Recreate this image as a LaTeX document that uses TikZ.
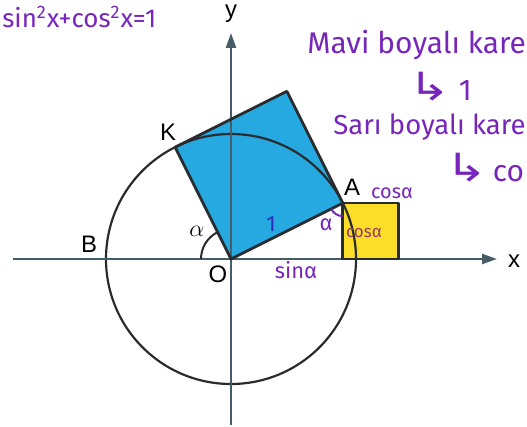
\documentclass[tikz,border=0pt]{standalone}
\usepackage{fontspec}
\setmainfont{Liberation Sans}
\newfontfamily\handfont{Fira Sans}
\newfontfamily\arrowfont{DejaVu Sans}
\usetikzlibrary{arrows.meta,calc}
\definecolor{bluefill}{RGB}{38,168,224}
\definecolor{yellowfill}{RGB}{252,222,40}
\definecolor{inkpurple}{RGB}{118,38,186}
\definecolor{inkblue}{RGB}{45,45,190}
\definecolor{inkbrown}{RGB}{150,55,105}
\definecolor{axisgray}{RGB}{70,92,102}
\definecolor{edgegray}{RGB}{40,44,46}
\newcommand{\hook}{{\arrowfont\scalebox{1.7}[1.3]{↳}}}

\begin{document}
\begin{tikzpicture}[
    x=0.5bp, y=0.5bp,
    axisline/.style={axisgray, line width=1.2pt, -{Triangle[length=7.5pt,width=5pt]}},
    sqedge/.style={edgegray, line width=1.4pt, line join=round},
    letter/.style={font=\fontsize{12}{14}\selectfont, inner sep=0pt},
    inkhand/.style={inkpurple, font=\handfont\fontsize{15}{17}\selectfont, inner sep=0pt},
    inksmall/.style={inkpurple, font=\handfont\fontsize{10}{12}\selectfont, inner sep=0pt}
]
\useasboundingbox (-231,-168) rectangle (296,259);

% Corners
\coordinate (O) at (0,0);
\coordinate (A) at (26.565:125);
\coordinate (K) at (116.565:125);
\coordinate (D) at ($(A)+(K)$);
\coordinate (P) at (A |- O);
\coordinate (Q) at (167.7,0);
\coordinate (R) at (Q |- A);

% Fills
\fill[bluefill] (O) -- (A) -- (D) -- (K) -- cycle;
\fill[yellowfill] (A) -- (R) -- (Q) -- (P) -- cycle;

% Unit circle
\draw[edgegray, line width=1.1pt] (O) circle (125);

% Axes
\coordinate (xl) at (-218,0);
\coordinate (xr) at (266,0);
\coordinate (yb) at (0,-166);
\coordinate (yt) at (0,226);
\draw[axisline] (xl) -- (xr);
\draw[axisline] (yb) -- (yt);

% Squares
\draw[sqedge] (O) -- (A) -- (D) -- (K) -- cycle;
\draw[sqedge] (A) -- (R) -- (Q) -- (P) -- cycle;

% Angle marks
\draw[edgegray, line width=1pt] (-30,0) arc[start angle=180, end angle=116.565, radius=30];
\draw[inkpurple, line width=1pt] ($(A)+(206.565:13)$) arc[start angle=206.565, end angle=270, radius=13];

% Letters
\node[letter] (ylab) at (0,245) {y};
\node[letter] (xlab) at (283,-2) {x};
\node[letter] (Klab) at (-63,127) {K};
\node[letter] (Alab) at (121,72) {A};
\node[letter] (Blab) at (-142,15) {B};
\node[letter] (Olab) at (-13,-15) {O};
\node[font=\fontsize{12}{14}\selectfont, inner sep=0pt] (alab) at (-34,28) {$\alpha$};

% Notes on the figure
\node[inksmall, inkblue, font=\handfont\fontsize{11}{13}\selectfont] (one) at (40,35) {1};
\node[inksmall, font=\handfont\fontsize{11}{13}\selectfont] (alphaA) at (95,34) {α};
\node[inksmall] (cosa) at (161,66) {cosα};
\node[inksmall, inkbrown, font=\handfont\fontsize{8.5}{10}\selectfont] (cosb) at (133,26) {cosα};
\node[inksmall, font=\handfont\fontsize{11}{13}\selectfont] (sina) at (65,-11) {sinα};

% Notes at the side
\node[inkhand, font=\handfont\fontsize{13}{15}\selectfont, anchor=west] (idty) at (-229,242) {sin\textsuperscript{2}x+cos\textsuperscript{2}x=1};
\node[inkhand, anchor=west] (mavi) at (76,214) {Mavi boyalı kare};
\node[inkhand, anchor=west] (mavival) at (177,172) {\hook\ 1};
\node[inkhand, font=\handfont\fontsize{13.8}{16}\selectfont, anchor=west] (sari) at (102,132) {Sarı boyalı kare};
\node[inkhand, anchor=west] (sarival) at (214,91) {\hook\,co};

\end{tikzpicture}
\end{document}
